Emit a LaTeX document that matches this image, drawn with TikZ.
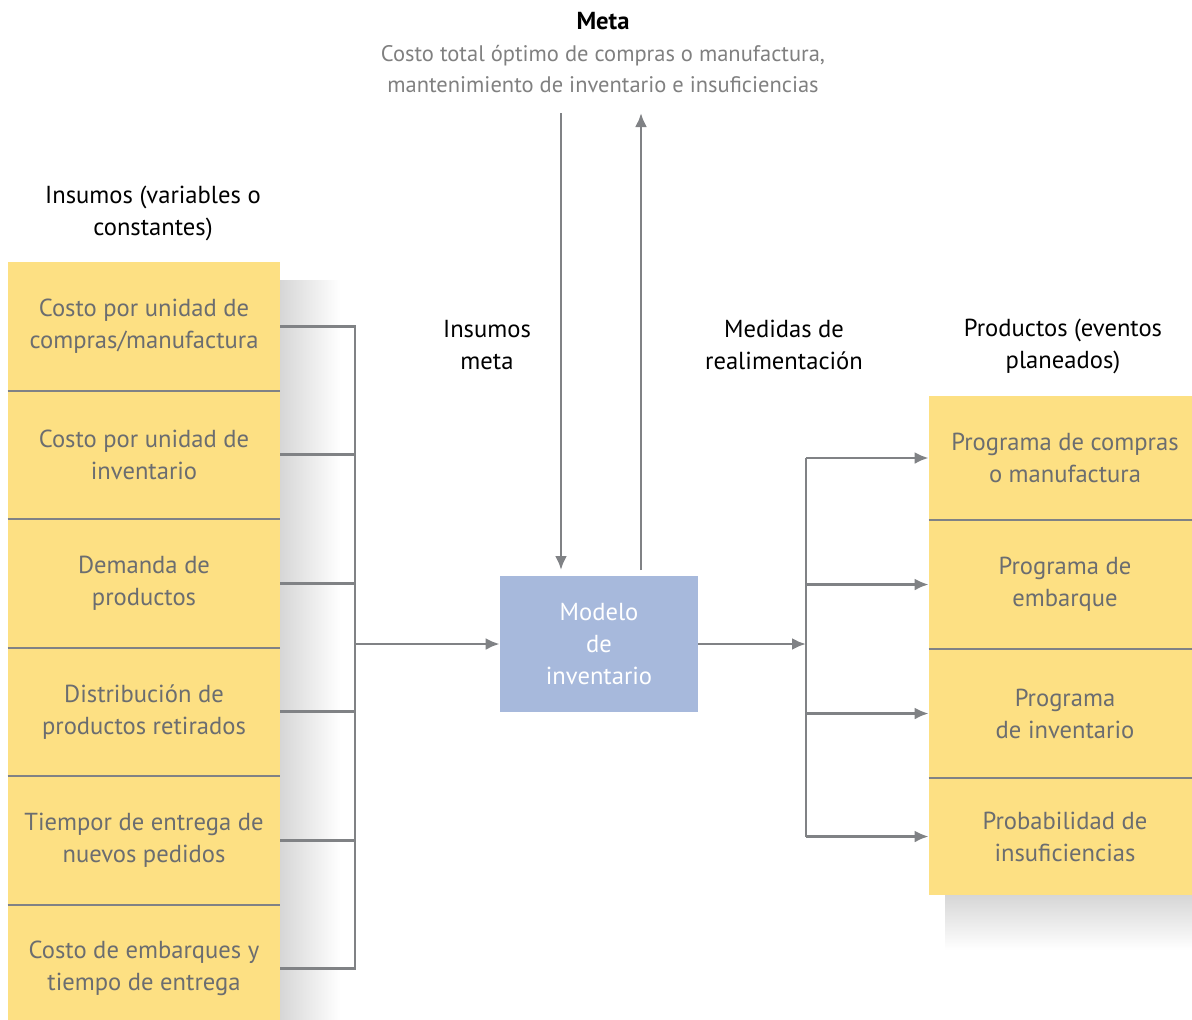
\documentclass[tikz,border=0pt]{standalone}
\usepackage{fontspec}
\setmainfont{PT Sans}
\usetikzlibrary{arrows.meta,calc}
\definecolor{amarillo}{HTML}{FDE083}
\definecolor{azulmodelo}{HTML}{A7B9DC}
\definecolor{gristexto}{HTML}{6B6D70}
\definecolor{grislinea}{HTML}{808285}
\begin{document}
\begin{tikzpicture}[x=0.025cm, y=-0.025cm,
    txt/.style={font=\fontsize{17.5}{22.7}\selectfont, align=center},
    filaL/.style={txt, fill=amarillo, text=gristexto, minimum width=6.8cm, minimum height=3.2125cm, inner sep=0pt},
    filaR/.style={txt, fill=amarillo, text=gristexto, minimum width=6.8cm, inner sep=0pt},
    linea/.style={draw=grislinea, line width=2pt},
    divisor/.style={draw=grislinea, line width=1.5pt},
    flecha/.style={linea, -{Latex[length=0.35cm, width=0.3cm]}}]
    \useasboundingbox (0,0) rectangle (1192,1020);

    % sombras
    \shade[left color=black!16, right color=white] (280,280) rectangle (340,1020);
    \shade[top color=black!16, bottom color=white] (945,895) rectangle (1192,950);

    % titulo
    \node[txt, font=\fontsize{17.5}{22.7}\selectfont\bfseries] (meta) at (603,21) {Meta};
    \node[txt, font=\fontsize{16}{22.7}\selectfont, text=black!50] (metadesc) at (603,69) {Costo total óptimo de compras o manufactura,\\mantenimiento de inventario e insuficiencias};

    % insumos
    \node[txt] (tinsumos) at (153,213) {Insumos (variables o\\constantes)};
    \node[filaL] (i1) at (144,326.25) {Costo por unidad de\\compras/manufactura};
    \node[filaL] (i2) at (144,454.75) {Costo por unidad de\\inventario};
    \node[filaL] (i3) at (144,583.25) {Demanda de\\productos};
    \node[filaL] (i4) at (144,711.75) {Distribución de\\productos retirados};
    \node[filaL] (i5) at (144,840.25) {Tiempor de entrega de\\nuevos pedidos};
    \node[filaL] (i6) at (144,968.75) {Costo de embarques y\\tiempo de entrega};
    \foreach \a/\b in {i1/i2, i2/i3, i3/i4, i4/i5, i5/i6}
        \draw[divisor] (\a.south west) -- (\a.south east);

    % modelo
    \node[txt, fill=azulmodelo, text=white, minimum width=4.95cm, minimum height=3.4cm, inner sep=0pt] (modelo) at (599,644) {Modelo\\de\\inventario};
    \node[txt] (tmeta) at (487,345) {Insumos\\meta};
    \node[txt] (treal) at (784,345) {Medidas de\\realimentación};

    % productos
    \node[txt] (tprod) at (1063,346) {Productos (eventos\\planeados)};
    \node[filaR, minimum height=3.1cm] (o1) at (1065,458) {Programa de compras\\o manufactura};
    \node[filaR, minimum height=3.225cm] (o2) at (1065,584.5) {Programa de\\embarque};
    \node[filaR, minimum height=3.225cm] (o3) at (1065,713.5) {Programa\\de inventario};
    \node[filaR, minimum height=2.925cm] (o4) at (1065,836.5) {Probabilidad de\\insuficiencias};
    \foreach \a in {o1, o2, o3}
        \draw[divisor] (\a.south west) -- (\a.south east);

    % conectores izquierda
    \coordinate (busL) at (355,644);
    \draw[linea] (i1.east) -| (i6.east -| busL) -- (i6.east);
    \foreach \n in {i2, i3, i4, i5}
        \draw[linea] (\n.east) -- (\n.east -| busL);
    \draw[flecha] (busL) -- (modelo.west);

    % meta
    \coordinate (metaA) at (561,113);
    \coordinate (metaB) at (641,113);
    \draw[flecha, shorten >=4] (metaA) -- (metaA |- modelo.north);
    \draw[flecha, shorten <=4] (metaB |- modelo.north) -- (metaB);

    % conectores derecha
    \coordinate (busR) at (806,644);
    \draw[flecha] (modelo.east) -- (busR);
    \draw[linea] (o1.west -| busR) -- (o4.west -| busR);
    \foreach \n in {o1, o2, o3, o4}
        \draw[flecha] (\n.west -| busR) -- (\n.west);
\end{tikzpicture}
\end{document}
